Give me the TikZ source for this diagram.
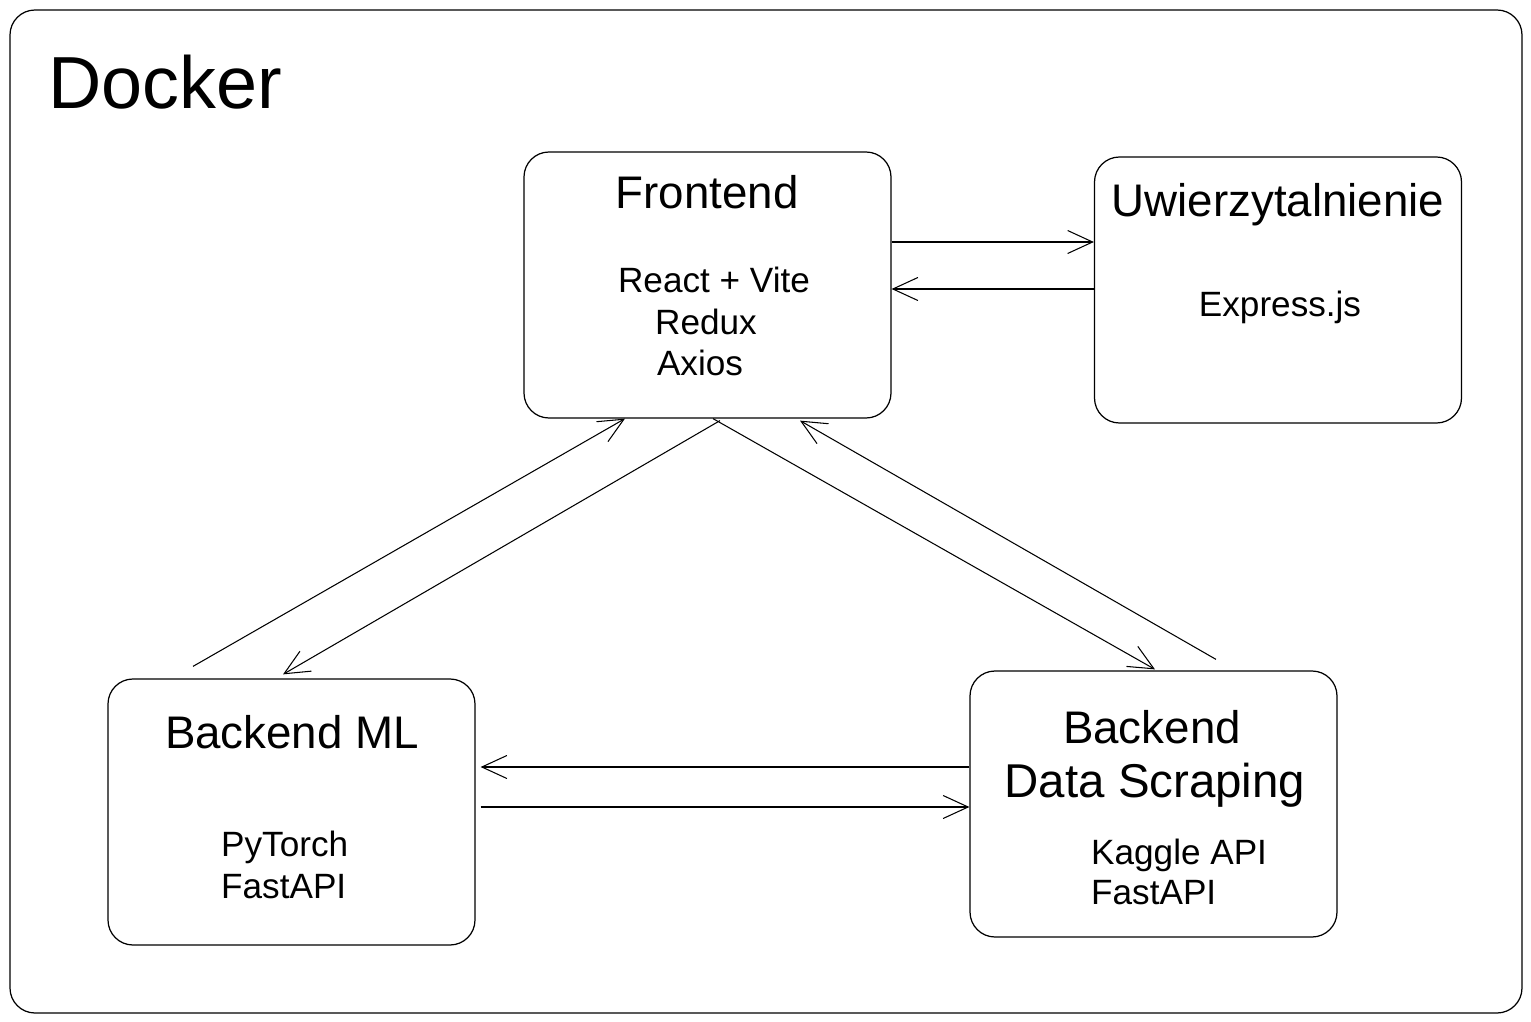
\documentclass[tikz,border=0pt]{standalone}
\usepackage{fontspec}
\setmainfont{Liberation Sans}
\usetikzlibrary{arrows.meta}
\tikzset{
  box/.style={draw, line width=0.7pt, rounded corners=0.5cm, minimum width=7.34cm, minimum height=5.32cm},
  title/.style={font=\fontsize{26}{30}\selectfont},
  item/.style={font=\fontsize{20}{24}\selectfont},
  link/.style={line width=0.6pt, -{Straight Barb[length=5mm,width=4.6mm]}}
}
\begin{document}
\begin{tikzpicture}
            \useasboundingbox (0,0) rectangle (30.62,-20.44);
            % Docker frame
            \node[draw, line width=0.7pt, rounded corners=0.5cm, minimum width=30.24cm, minimum height=20.06cm] (docker) at (15.32,-10.23) {};
            \node[font=\fontsize{42}{48}\selectfont] (dockerT) at (3.3,-1.64) {Docker};

            % Frontend
            \node[box] (fe) at (14.15,-5.7) {};
            \node[title] (feT) at (14.14,-3.84) {Frontend};
            \node[item] (feA) at (14.28,-5.6) {React + Vite};
            \node[item] (feB) at (14.12,-6.44) {Redux};
            \node[item] (feC) at (14.0,-7.26) {Axios};

            % Uwierzytalnienie
            \node[box] (uw) at (25.56,-5.8) {};
            \node[title] (uwT) at (25.56,-4.1) {Uwierzytalnienie};
            \node[item] (uwA) at (25.6,-6.14) {Express.js};

            % Backend ML
            \node[box] (bml) at (5.83,-16.24) {};
            \node[title] (bmlT) at (5.84,-14.64) {Backend ML};
            \node[item, anchor=west] (bmlA) at (4.3,-16.94) {PyTorch};
            \node[item, anchor=west] (bmlB) at (4.3,-17.74) {FastAPI};

            % Backend Data Scraping
            \node[box] (bds) at (23.07,-16.08) {};
            \node[title] (bdsT) at (23.04,-14.54) {Backend};
            \node[title, font=\fontsize{27}{31}\selectfont] (bdsU) at (23.1,-15.7) {Data Scraping};
            \node[item, anchor=west] (bdsA) at (21.7,-17.1) {Kaggle API};
            \node[item, anchor=west] (bdsB) at (21.7,-17.86) {FastAPI};

            % Frontend and Uwierzytalnienie
            \draw[link] ([yshift=0.86cm]fe.east) -- ([yshift=0.86cm]fe.east -| uw.west);
            \draw[link] ([yshift=-0.08cm]fe.east -| uw.west) -- ([yshift=-0.08cm]fe.east);

            % Frontend and Backend ML
            \draw[link] ([xshift=-1.97cm,yshift=0.24cm]bml.north) -- ([xshift=-1.65cm]fe.south);
            \draw[link] ([xshift=0.25cm,yshift=-0.04cm]fe.south) -- ([xshift=-0.17cm,yshift=0.08cm]bml.north);

            % Frontend and Backend Data Scraping
            \draw[link] ([xshift=0.11cm]fe.south) -- ([xshift=0.03cm,yshift=0.02cm]bds.north);
            \draw[link] ([xshift=1.25cm,yshift=0.22cm]bds.north) -- ([xshift=1.85cm,yshift=-0.04cm]fe.south);

            % Backend ML and Backend Data Scraping
            \draw[link] ([yshift=0.9cm]bml.east -| bds.west) -- ([yshift=0.9cm,xshift=0.1cm]bml.east);
            \draw[link] ([yshift=0.1cm,xshift=0.1cm]bml.east) -- ([yshift=0.1cm]bml.east -| bds.west);
        \end{tikzpicture}
\end{document}
